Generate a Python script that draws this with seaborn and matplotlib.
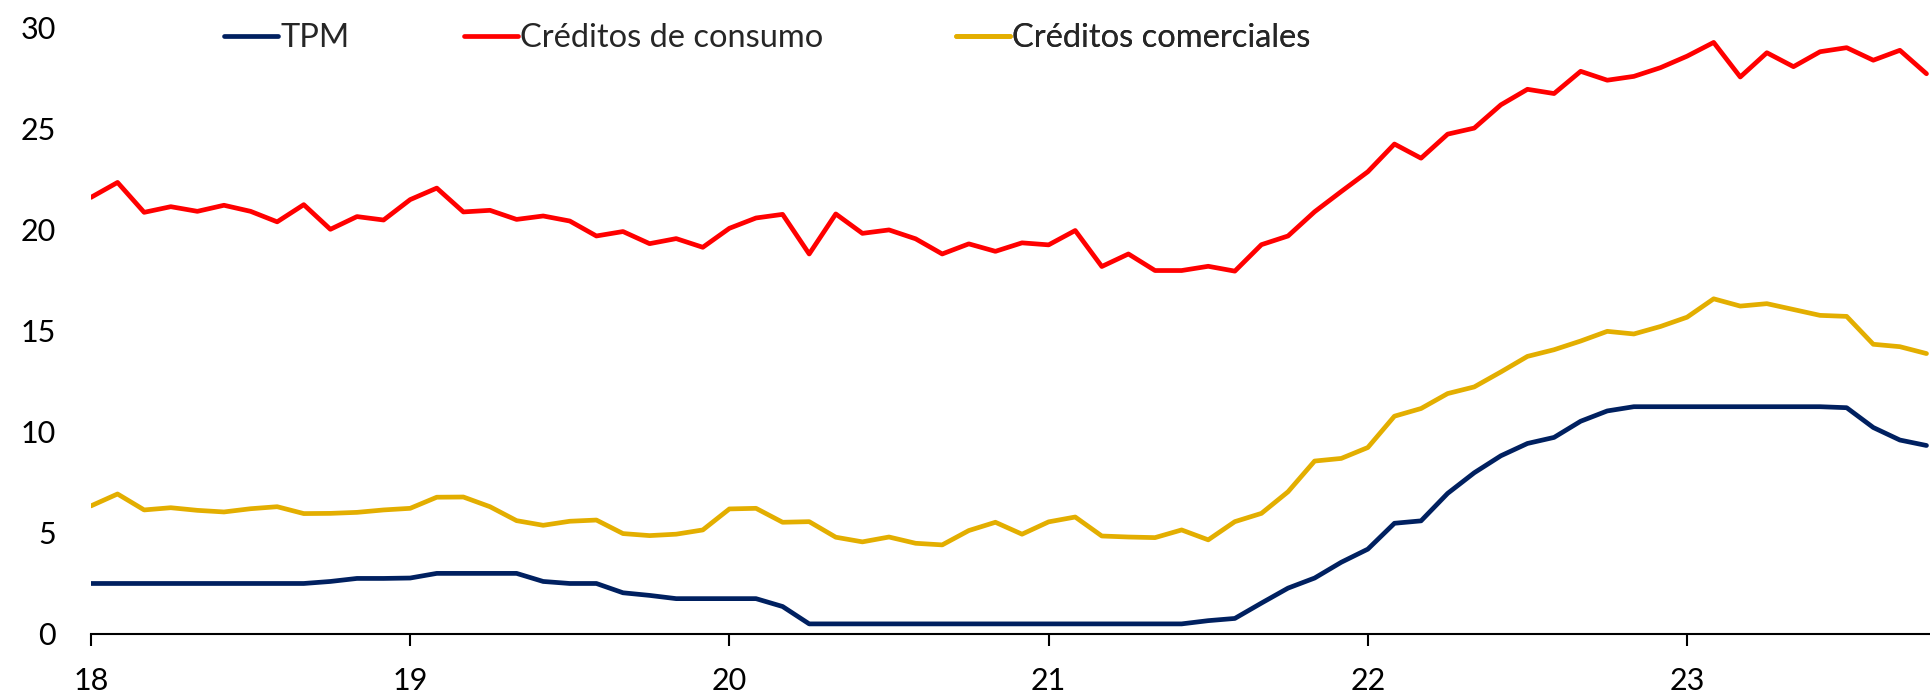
import numpy as np
import pandas as pd
import seaborn as sns
import matplotlib.pyplot as plt

sns.set_theme(style="white")
plt.rcParams["font.family"] = ["Lato", "DejaVu Sans"]

# monthly data, Jan 2018 - Oct 2023
months = pd.period_range("2018-01", "2023-10", freq="M").strftime("%Y-%m")

tpm = [2.5, 2.5, 2.5, 2.5, 2.5, 2.5, 2.5, 2.5, 2.5, 2.6, 2.75, 2.75,
       2.77, 3.0, 3.0, 3.0, 3.0, 2.6, 2.5, 2.5, 2.04, 1.91, 1.75, 1.75,
       1.75, 1.75, 1.36, 0.5, 0.5, 0.5, 0.5, 0.5, 0.5, 0.5, 0.5, 0.5,
       0.5, 0.5, 0.5, 0.5, 0.5, 0.5, 0.66, 0.77, 1.53, 2.27, 2.77, 3.55,
       4.2, 5.48, 5.6, 6.96, 7.98, 8.82, 9.43, 9.73, 10.53, 11.04, 11.25, 11.25,
       11.25, 11.25, 11.25, 11.25, 11.25, 11.25, 11.2, 10.22, 9.6, 9.33]

consumo = [21.61, 22.35, 20.87, 21.15, 20.92, 21.22, 20.92, 20.4, 21.25, 20.03, 20.66, 20.49,
           21.5, 22.07, 20.89, 20.97, 20.52, 20.69, 20.44, 19.7, 19.92, 19.32, 19.57, 19.14,
           20.08, 20.59, 20.77, 18.81, 20.79, 19.83, 20.0, 19.56, 18.81, 19.31, 18.94, 19.36,
           19.26, 19.97, 18.19, 18.81, 17.99, 17.99, 18.2, 17.96, 19.27, 19.7, 20.9, 21.9,
           22.88, 24.25, 23.55, 24.74, 25.04, 26.19, 26.96, 26.75, 27.85, 27.41, 27.6, 28.03,
           28.6, 29.28, 27.57, 28.77, 28.08, 28.82, 29.02, 28.4, 28.89, 27.73]

comerciales = [6.34, 6.93, 6.14, 6.25, 6.12, 6.04, 6.2, 6.3, 5.96, 5.97, 6.02, 6.14,
               6.22, 6.77, 6.78, 6.3, 5.61, 5.38, 5.58, 5.64, 4.97, 4.87, 4.94, 5.15,
               6.19, 6.22, 5.53, 5.56, 4.79, 4.56, 4.8, 4.49, 4.41, 5.12, 5.53, 4.94,
               5.55, 5.79, 4.85, 4.8, 4.77, 5.15, 4.66, 5.56, 5.97, 7.04, 8.56, 8.69,
               9.23, 10.78, 11.16, 11.9, 12.23, 12.97, 13.74, 14.07, 14.5, 14.98, 14.85, 15.22,
               15.68, 16.59, 16.23, 16.35, 16.06, 15.77, 15.72, 14.34, 14.22, 13.88]

series = ["TPM", "Créditos de consumo", "Créditos comerciales"]
colors = ["#002060", "#FF0000", "#E3AE00"]
year_labels = ["18", "19", "20", "21", "22", "23"]

df = pd.DataFrame({"mes": months, "pos": range(len(months)),
                   series[0]: tpm, series[1]: consumo, series[2]: comerciales})
long = df.melt(id_vars=["mes", "pos"], var_name="serie", value_name="tasa")

fig, ax = plt.subplots(figsize=(19.31, 6.97), dpi=100)
fig.subplots_adjust(left=0.0471, right=1.0, bottom=0.0904, top=0.96)

sns.lineplot(data=long, x="pos", y="tasa", hue="serie", hue_order=series,
             palette=colors, linewidth=3.4, ax=ax)

### axes config ###
ax.set_xlim(0, 69.17)
ax.set_ylim(0, 30)
ax.set_xticks(range(0, len(months), 12))
ax.set_xticklabels(year_labels)
ax.set_yticks(range(0, 31, 5))
ax.set_xlabel("")
ax.set_ylabel("")

for side in ["left", "right", "top"]:
    ax.spines[side].set_visible(False)
ax.spines["bottom"].set_color("black")
ax.spines["bottom"].set_linewidth(1.5)

ax.tick_params(axis="x", direction="out", length=8.5, width=1.5, color="black",
               labelsize=22, labelcolor="black", pad=15, bottom=True)
ax.tick_params(axis="y", length=0, labelsize=22, labelcolor="black", pad=25)

# legend: one entry per anchor so each sits where it does in the original
handles, labels = ax.get_legend_handles_labels()
ax.get_legend().remove()
legend_x = [0.0723, 0.2027, 0.4701]
for h, lab, lx in zip(handles, labels, legend_x):
    leg = ax.legend([h], [lab], loc="center left", bbox_to_anchor=(lx, 0.983),
                    frameon=False, fontsize=23.5, handlelength=1.65,
                    handletextpad=0.08, borderpad=0, borderaxespad=0)
    ax.add_artist(leg)

plt.savefig("out.png", dpi=100)
